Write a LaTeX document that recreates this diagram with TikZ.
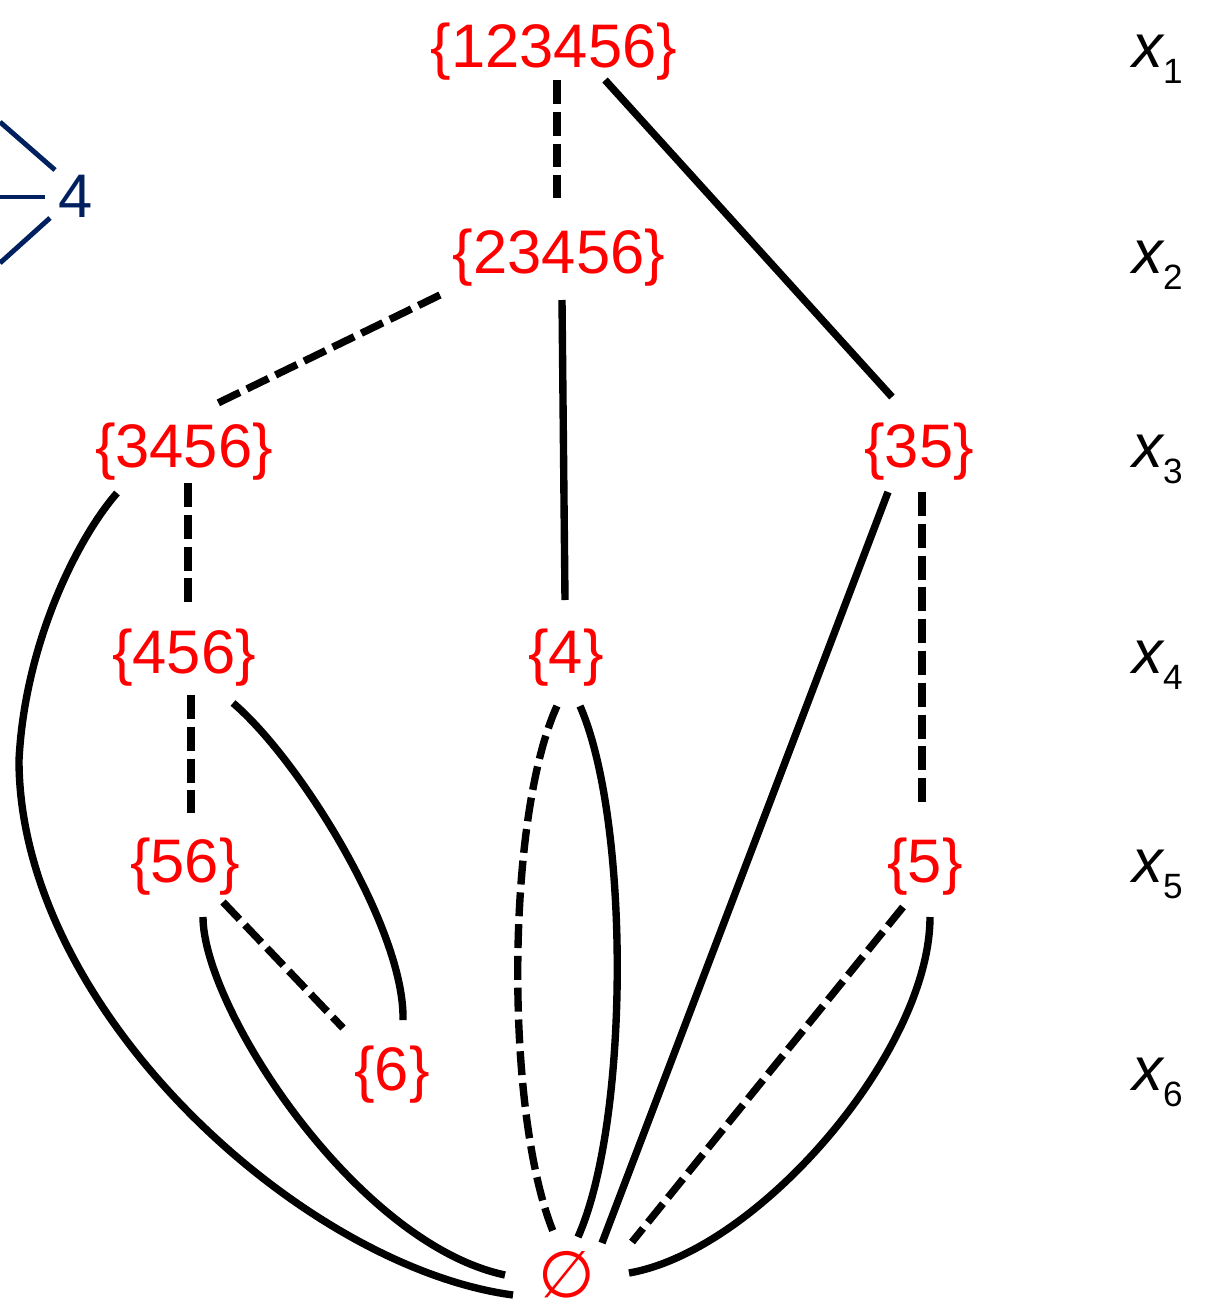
\documentclass[tikz,border=0pt]{standalone}
\usepackage{fontspec}
\setmainfont{Liberation Sans}
\newfontfamily\symfont{DejaVu Sans}
\usepackage{tikz}
\usetikzlibrary{calc}
\definecolor{SetRed}{HTML}{FF0000}
\definecolor{Navy}{HTML}{002060}
\tikzset{
  setnode/.style={text=SetRed,font=\fontsize{35}{40}\selectfont,inner sep=0pt,anchor=base},
  levelnode/.style={font=\fontsize{35}{40}\selectfont,inner sep=0pt,anchor=base west},
  solidedge/.style={line width=4.2pt,draw=black},
  dashedge/.style={solidedge,dash pattern=on 13.6pt off 4.5pt},
  navyedge/.style={line width=2.8pt,draw=Navy}
}
\newcommand{\lvl}[1]{{\itshape x}\raisebox{-9.6pt}{\fontsize{20}{20}\selectfont #1}}

\begin{document}
\begin{tikzpicture}[x=0.02cm,y=-0.02cm]
  \useasboundingbox (0,0) rectangle (1212,1312);
  % sets, one row per variable
  \node[setnode] (s123456) at (554,67) {\{123456\}};
  \node[setnode] (s23456) at (559,273) {\{23456\}};
  \node[setnode] (s3456) at (184,467) {\{3456\}};
  \node[setnode] (s35) at (919,467) {\{35\}};
  \node[setnode] (s456) at (184,673) {\{456\}};
  \node[setnode] (s4) at (566,673) {\{4\}};
  \node[setnode] (s56) at (185,882) {\{56\}};
  \node[setnode] (s5) at (925,882) {\{5\}};
  \node[setnode] (s6) at (392,1090) {\{6\}};
  \node[text=SetRed,font=\symfont\fontsize{37}{40}\selectfont,inner sep=0pt] (sempty) at (567,1275) {∅};
  % variable labels
  \node[levelnode] (lx1) at (1132,67) {\lvl{1}};
  \node[levelnode] (lx2) at (1132,273) {\lvl{2}};
  \node[levelnode] (lx3) at (1132,467) {\lvl{3}};
  \node[levelnode] (lx4) at (1132,673) {\lvl{4}};
  \node[levelnode] (lx5) at (1132,882) {\lvl{5}};
  \node[levelnode] (lx6) at (1132,1090) {\lvl{6}};
  % piece of the other graph at the left edge
  \node[text=Navy,font=\fontsize{35}{40}\selectfont,inner sep=0pt,anchor=base] (b4) at (76,217) {4};
  \coordinate (bl1) at (0,122);
  \coordinate (bl2) at (0,197);
  \coordinate (bl3) at (0,263);
  \draw[navyedge] (bl1) -- ($(b4.base)+(-21,-47)$);
  \draw[navyedge] (bl2) -- ($(b4.base)+(-31,-20)$);
  \draw[navyedge] (bl3) -- ($(b4.base)+(-26,1)$);
  % edges
  \draw[dashedge] ($(s123456.base)+(3,13)$) -- ($(s23456.base)+(-2,-75)$);
  \draw[solidedge] ($(s123456.base)+(51,13)$) -- ($(s35.base)+(-27,-70)$);
  \draw[dashedge] ($(s23456.base)+(-119,22)$) -- ($(s3456.base)+(34,-64)$);
  \draw[solidedge] ($(s23456.base)+(3,27)$) -- ($(s4.base)+(-1,-73)$);
  \draw[dashedge] ($(s3456.base)+(4,16)$) -- ($(s456.base)+(4,-70)$);
  \draw[solidedge] ($(s3456.base)+(-67,26)$) .. controls +(-37,42) and +(6,-120) .. (19,760)
    .. controls +(0,250) and +(-210,-28) .. ($(sempty)+(-54,20)$);
  \draw[solidedge] ($(s35.base)+(-31,25)$) -- ($(sempty)+(35,-32)$);
  \draw[dashedge] ($(s35.base)+(3,25)$) -- ($(s5.base)+(-3,-79)$);
  \draw[dashedge] ($(s456.base)+(7,22)$) -- ($(s56.base)+(6,-69)$);
  \draw[solidedge] ($(s456.base)+(49,30)$) .. controls +(67,57) and +(2,-90) .. ($(s6.base)+(11,-70)$);
  \draw[dashedge] ($(s4.base)+(-9,33)$) .. controls +(-52,114) and +(-50,-116) .. ($(sempty)+(-12,-39)$);
  \draw[solidedge] ($(s4.base)+(14,33)$) .. controls +(50,114) and +(52,-117) .. ($(sempty)+(11,-38)$);
  \draw[dashedge] ($(s56.base)+(38,20)$) -- ($(s6.base)+(-49,-62)$);
  \draw[solidedge] ($(s56.base)+(18,35)$) .. controls +(0,90) and +(-150,-32) .. ($(sempty)+(-62,0)$);
  \draw[dashedge] ($(s5.base)+(-22,25)$) -- ($(sempty)+(65,-33)$);
  \draw[solidedge] ($(s5.base)+(5,35)$) .. controls +(0,133) and +(131,-23) .. ($(sempty)+(62,-2)$);
\end{tikzpicture}
\end{document}
